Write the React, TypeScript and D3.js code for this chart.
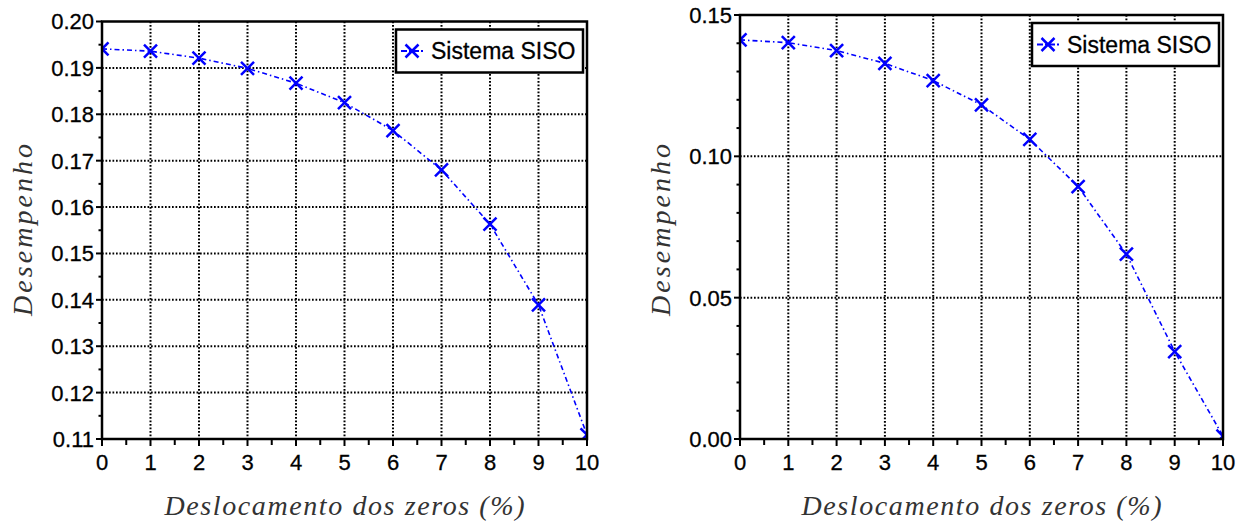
import React from 'react';
import * as d3 from 'd3';

// deslocamento dos zeros (%)
const shifts = [0, 1, 2, 3, 4, 5, 6, 7, 8, 9, 10];

// desempenho, first chart
const perfLeft = [0.1941, 0.1936, 0.1921, 0.1899, 0.1867, 0.1825, 0.1765, 0.1680, 0.1563, 0.1389, 0.1109];
// desempenho, second chart
const perfRight = [0.1412, 0.1402, 0.1374, 0.1329, 0.1268, 0.1182, 0.1060, 0.0893, 0.0654, 0.0309, 0.0010];

const leftYTicks = [0.11, 0.12, 0.13, 0.14, 0.15, 0.16, 0.17, 0.18, 0.19, 0.20];
const rightYTicks = [0.0, 0.05, 0.10, 0.15];

const legendLabel = 'Sistema SISO';
const xLabel = 'Deslocamento dos zeros (%)';
const yLabel = 'Desempenho';

const BLUE = '#0000ff';
const SANS = '"Liberation Sans", Arial, sans-serif';
const SERIF = '"Liberation Serif", "Times New Roman", serif';
const DASHDOT = '5,3,1.5,3';

const Cross = ({ x, y, r = 6.5 }) => (
  <g stroke={BLUE} strokeWidth={2.5}>
    <line x1={x - r} y1={y - r} x2={x + r} y2={y + r} />
    <line x1={x - r} y1={y + r} x2={x + r} y2={y - r} />
  </g>
);

const Panel = ({ id, box, values, yDomain, yTicks, yMinorStep, yFormat }) => {
  const x = d3.scaleLinear().domain([0, 10]).range([box.left, box.right]);
  const y = d3.scaleLinear().domain(yDomain).range([box.bottom, box.top]);

  const line = d3.line<number>()
    .x((d, i) => x(shifts[i]))
    .y(d => y(d));

  const xMinor = d3.range(0.5, 10, 1);
  const yMinor = d3.range(yDomain[0], yDomain[1] + 1e-9, yMinorStep)
    .filter(v => !yTicks.some(t => Math.abs(t - v) < 1e-9));

  const lw = 187, lh = 43;
  const lx = box.right - lw - 4;
  const ly = box.top + 8;

  const midX = (box.left + box.right) / 2;

  return (
    <g>
      <defs>
        <clipPath id={id}>
          <rect x={box.left} y={box.top} width={box.right - box.left} height={box.bottom - box.top} />
        </clipPath>
      </defs>

      {/* grid */}
      <g stroke="#000" strokeWidth={2} strokeDasharray="1.7,1.8">
        {shifts.slice(1, -1).map(s => (
          <line key={'gx' + s} x1={x(s)} x2={x(s)} y1={box.top} y2={box.bottom} />
        ))}
        {yTicks.slice(1, -1).map(t => (
          <line key={'gy' + t} x1={box.left} x2={box.right} y1={y(t)} y2={y(t)} />
        ))}
      </g>

      {/* ticks */}
      <g stroke="#000" strokeWidth={2}>
        {shifts.map(s => (
          <line key={'tx' + s} x1={x(s)} x2={x(s)} y1={box.bottom} y2={box.bottom + 7} />
        ))}
        {xMinor.map(s => (
          <line key={'mx' + s} x1={x(s)} x2={x(s)} y1={box.bottom} y2={box.bottom + 6} />
        ))}
        {yTicks.map(t => (
          <line key={'ty' + t} x1={box.left - 6} x2={box.left} y1={y(t)} y2={y(t)} />
        ))}
        {yMinor.map(t => (
          <line key={'my' + t} x1={box.left - 3.5} x2={box.left} y1={y(t)} y2={y(t)} />
        ))}
      </g>

      {/* data */}
      <g clipPath={`url(#${id})`}>
        <path d={line(values) || ''} fill="none" stroke={BLUE} strokeWidth={1.6} strokeDasharray={DASHDOT} />
        {values.map((v, i) => <Cross key={i} x={x(shifts[i])} y={y(v)} />)}
      </g>

      {/* frame */}
      <rect x={box.left} y={box.top} width={box.right - box.left} height={box.bottom - box.top}
        fill="none" stroke="#000" strokeWidth={2.5} />

      {/* tick labels */}
      <g fontFamily={SANS} fontSize={22} fill="#000" stroke="#000" strokeWidth={0.3}>
        {shifts.map(s => (
          <text key={'lx' + s} x={x(s)} y={box.bottom + 31} textAnchor="middle">{s}</text>
        ))}
        {yTicks.map(t => (
          <text key={'ly' + t} x={box.left - 8} y={y(t)} dy="0.36em" textAnchor="end">{yFormat(t)}</text>
        ))}
      </g>

      {/* legend */}
      <rect x={lx} y={ly} width={lw} height={lh} fill="#fff" stroke="#000" strokeWidth={2.5} />
      <line x1={lx + 5} x2={lx + 29} y1={ly + lh / 2} y2={ly + lh / 2} stroke={BLUE} strokeWidth={1.8} strokeDasharray="6,2,2,2" />
      <Cross x={lx + 16} y={ly + lh / 2} />
      <text x={lx + 35} y={ly + lh / 2 + 8} fontFamily={SANS} fontSize={23} fill="#000"
        stroke="#000" strokeWidth={0.3}>{legendLabel}</text>

      {/* axis titles */}
      <text x={midX} y={515} textAnchor="middle" fontFamily={SERIF} fontStyle="italic" fontSize={28}
        fill="#333" textLength={360} lengthAdjust="spacing">{xLabel}</text>
      <text transform={`translate(${box.left - 70},230) rotate(-90)`} textAnchor="middle"
        fontFamily={SERIF} fontStyle="italic" fontSize={28} fill="#333" textLength={172} lengthAdjust="spacing">{yLabel}</text>
    </g>
  );
};

const App = () => {
  return (
    <svg width={1246} height={525} style={{ position: 'absolute', left: 0, top: 0, background: '#fff' }}>
      <rect width={1246} height={525} fill="#fff" />
      <Panel id="clipL" box={{ left: 102, right: 587, top: 21.5, bottom: 439 }} values={perfLeft}
        yDomain={[0.11, 0.20]} yTicks={leftYTicks} yMinorStep={0.005} yFormat={d3.format('.2f')} />
      <Panel id="clipR" box={{ left: 740, right: 1223, top: 15, bottom: 439 }} values={perfRight}
        yDomain={[0, 0.15]} yTicks={rightYTicks} yMinorStep={0.01} yFormat={d3.format('.2f')} />
    </svg>
  );
};

export default App;
